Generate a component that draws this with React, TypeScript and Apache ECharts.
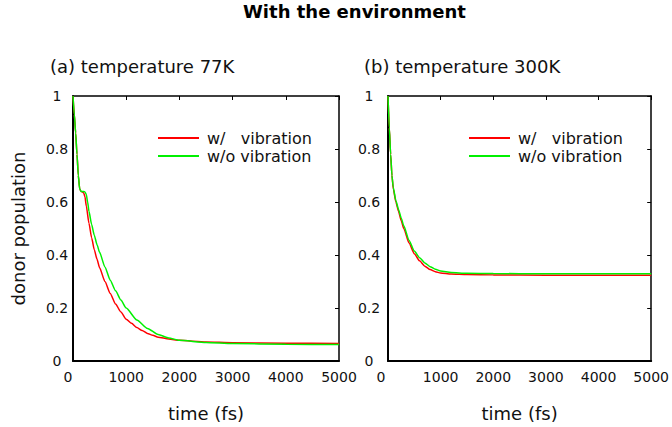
import React, { useEffect, useRef } from "react";
import * as echarts from "echarts";

const TITLE = "With the environment";
const SUBTITLE_A = "(a) temperature 77K";
const SUBTITLE_B = "(b) temperature 300K";
const X_NAME = "time (fs)";
const Y_NAME = "donor population";
const NAME_W = "w/   vibration";
const NAME_WO = "w/o vibration";

const X_TICKS = [0, 1000, 2000, 3000, 4000, 5000];
const Y_TICKS = [0, 0.2, 0.4, 0.6, 0.8, 1];

// (a) 77K
const tA_w = [0, 25, 50, 75, 100, 125, 150, 175, 200, 225, 250, 300, 350, 400, 450, 500, 600, 700, 800, 900, 1000, 1100, 1200, 1300, 1400, 1500, 1600, 1800, 2000, 2500, 3000, 4000, 5000];
const vA_w = [1.0, 0.93, 0.86, 0.78, 0.7, 0.65, 0.64, 0.638, 0.635, 0.62, 0.585, 0.52, 0.465, 0.42, 0.385, 0.352, 0.3, 0.255, 0.215, 0.185, 0.158, 0.142, 0.126, 0.115, 0.104, 0.097, 0.09, 0.083, 0.078, 0.072, 0.069, 0.067, 0.066];
const tA_wo = [0, 25, 50, 75, 100, 125, 150, 175, 200, 225, 250, 275, 300, 350, 400, 450, 500, 600, 700, 800, 900, 1000, 1200, 1400, 1600, 1800, 2000, 2500, 3000, 4000, 5000];
const vA_wo = [1.0, 0.93, 0.86, 0.78, 0.7, 0.65, 0.64, 0.64, 0.64, 0.638, 0.628, 0.6, 0.565, 0.515, 0.475, 0.44, 0.41, 0.355, 0.305, 0.265, 0.23, 0.2, 0.155, 0.123, 0.1, 0.087, 0.078, 0.07, 0.066, 0.063, 0.062];

// (b) 300K
const tB = [0, 25, 50, 75, 100, 150, 200, 250, 300, 400, 500, 600, 700, 800, 900, 1000, 1200, 1500, 2000, 3000, 4000, 5000];
const vB_w = [1.0, 0.88, 0.78, 0.7, 0.65, 0.6, 0.565, 0.53, 0.5, 0.445, 0.405, 0.378, 0.358, 0.345, 0.337, 0.332, 0.328, 0.326, 0.325, 0.324, 0.324, 0.324];
const vB_wo = [1.0, 0.88, 0.78, 0.7, 0.655, 0.605, 0.572, 0.54, 0.51, 0.455, 0.415, 0.39, 0.37, 0.356, 0.346, 0.34, 0.334, 0.331, 0.33, 0.329, 0.329, 0.329];

const RED = "#ff0000";
const GREEN = "#00f000";
const FONT = "DejaVu Sans";

const pairs = (t: number[], v: number[]) => t.map((x, i) => [x, v[i]]);

export default function App() {
  const ref = useRef<HTMLDivElement>(null);
  useEffect(() => {
    if (!ref.current) return;
    const chart = echarts.init(ref.current, null, { renderer: "svg" });

    const xMin = X_TICKS[0];
    const xMax = X_TICKS[X_TICKS.length - 1];
    const xInt = X_TICKS[1] - X_TICKS[0];
    const yMin = Y_TICKS[0];
    const yMax = Y_TICKS[Y_TICKS.length - 1];
    const yInt = Y_TICKS[1] - Y_TICKS[0];

    const bottomX = (grid: number, zeroPad: number) => ({
      type: "value",
      gridIndex: grid,
      position: "bottom",
      min: xMin,
      max: xMax,
      interval: xInt,
      axisLine: { show: true, onZero: false, lineStyle: { color: "#000", width: 2 } },
      axisTick: { show: false },
      splitLine: { show: false },
      axisLabel: {
        color: "#111",
        fontFamily: FONT,
        fontSize: 14,
        margin: 9,
        formatter: (v: number) => (v === 0 ? "{z|0}" : String(v)),
        rich: { z: { padding: [0, zeroPad, 0, 0], fontFamily: FONT, fontSize: 14, color: "#111" } },
      },
      name: X_NAME,
      nameLocation: "middle",
      nameGap: 43,
      nameTextStyle: { color: "#111", fontFamily: FONT, fontSize: 18 },
    });
    const topX = (grid: number) => ({
      type: "value",
      gridIndex: grid,
      position: "top",
      min: xMin,
      max: xMax,
      interval: xInt,
      axisLine: { show: true, onZero: false, lineStyle: { color: "#000", width: 1.5 } },
      axisTick: { show: true, inside: true, length: 4, lineStyle: { color: "#000", width: 1 } },
      axisLabel: { show: false },
      splitLine: { show: false },
    });
    const leftY = (grid: number, margin: number, withName: boolean) => ({
      type: "value",
      gridIndex: grid,
      position: "left",
      min: yMin,
      max: yMax,
      interval: yInt,
      axisLine: { show: true, onZero: false, lineStyle: { color: "#000", width: 2 } },
      axisTick: { show: false },
      splitLine: { show: false },
      axisLabel: {
        color: "#111",
        fontFamily: FONT,
        fontSize: 14,
        align: "center",
        margin,
        formatter: (v: number) => (v === 0 ? "0" : v === 1 ? "1" : v.toFixed(1)),
      },
      ...(withName
        ? {
            name: Y_NAME,
            nameLocation: "middle",
            nameGap: 46,
            nameTextStyle: { color: "#111", fontFamily: FONT, fontSize: 18 },
          }
        : {}),
    });
    const rightY = (grid: number) => ({
      type: "value",
      gridIndex: grid,
      position: "right",
      min: yMin,
      max: yMax,
      interval: yInt,
      axisLine: { show: true, onZero: false, lineStyle: { color: "#000", width: 1.5 } },
      axisTick: { show: true, inside: true, length: 4, lineStyle: { color: "#000", width: 1 } },
      axisLabel: { show: false },
      splitLine: { show: false },
    });

    const line = (name: string, color: string, xi: number, yi: number, data: number[][]) => ({
      type: "line",
      name,
      xAxisIndex: xi,
      yAxisIndex: yi,
      data,
      showSymbol: false,
      symbol: "none",
      smooth: 0.2,
      smoothMonotone: "x",
      lineStyle: { color, width: 1.5 },
      itemStyle: { color },
    });

    const legend = (left: number) => ({
      left,
      top: 130,
      orient: "vertical",
      icon: "rect",
      itemWidth: 41,
      itemHeight: 2,
      itemGap: 2,
      padding: 0,
      data: [NAME_W, NAME_WO],
      textStyle: { color: "#111", fontFamily: FONT, fontSize: 16, padding: [0, 0, 0, 3] },
    });

    chart.setOption({
      animation: false,
      backgroundColor: "#fff",
      title: [
        {
          text: TITLE,
          left: 243,
          top: 2,
          padding: 0,
          textStyle: { color: "#000", fontFamily: FONT, fontSize: 18, fontWeight: "bold" },
        },
        {
          text: SUBTITLE_A,
          left: 50,
          top: 57,
          padding: 0,
          textStyle: { color: "#111", fontFamily: FONT, fontSize: 18, fontWeight: "normal" },
        },
        {
          text: SUBTITLE_B,
          left: 364,
          top: 57,
          padding: 0,
          textStyle: { color: "#111", fontFamily: FONT, fontSize: 18, fontWeight: "normal" },
        },
      ],
      legend: [legend(158), legend(469)],
      grid: [
        { left: 73, top: 96, width: 266, height: 265 },
        { left: 388, top: 96, width: 265, height: 265 },
      ],
      xAxis: [bottomX(0, 10), topX(0), bottomX(1, 14), topX(1)],
      yAxis: [leftY(0, 16, true), rightY(0), leftY(1, 19, false), rightY(1)],
      series: [
        line(NAME_W, RED, 0, 0, pairs(tA_w, vA_w)),
        line(NAME_WO, GREEN, 0, 0, pairs(tA_wo, vA_wo)),
        line(NAME_W, RED, 2, 2, pairs(tB, vB_w)),
        line(NAME_WO, GREEN, 2, 2, pairs(tB, vB_wo)),
      ],
    });
    return () => chart.dispose();
  }, []);
  return (
    <div
      ref={ref}
      style={{ position: "absolute", left: 0, top: 0, width: 672, height: 427 }}
    />
  );
}
